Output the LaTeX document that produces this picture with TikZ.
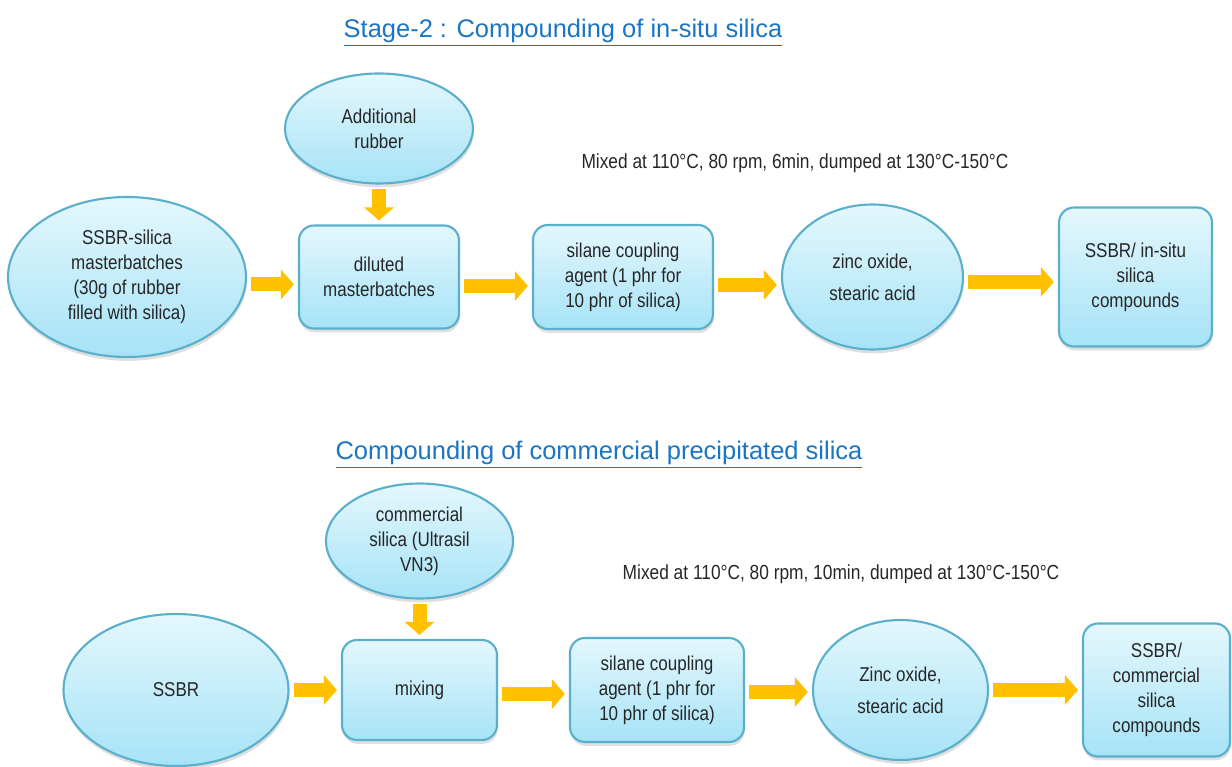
\documentclass[tikz,border=0pt]{standalone}
\usepackage{fontspec}
\setmainfont{Liberation Sans}
\newfontfamily\narrowfont[FakeStretch=0.85]{Liberation Sans}
\usetikzlibrary{shapes, arrows.meta, positioning, shadows}
\definecolor{edgeblue}{HTML}{5AAFCB}
\definecolor{filltop}{HTML}{E4F7FD}
\definecolor{fillbot}{HTML}{A6E3F7}
\definecolor{arrowyellow}{HTML}{FFC000}
\definecolor{titleblue}{HTML}{1A75C4}
\tikzstyle{base} = [draw=edgeblue, line width=1.2pt, top color=filltop, bottom color=fillbot,
    text=black!85, align=center, font=\narrowfont\fontsize{11.4}{14.2}\selectfont,
    drop shadow={shadow xshift=0.4pt, shadow yshift=-2.2pt, opacity=0.25}]
\tikzstyle{block} = [base, rectangle, rounded corners=0.3cm, inner sep=2pt]
\tikzstyle{oval} = [base, ellipse, inner sep=0pt]
\tikzstyle{line} = [draw=arrowyellow, line width=0.28cm,
    -{Triangle[length=0.26cm, width=0.58cm]}, shorten <=0.08cm, shorten >=0.08cm]
\tikzstyle{title} = [text=titleblue, font=\fontsize{14.5}{17}\selectfont]
\tikzstyle{note} = [text=black!85, font=\narrowfont\fontsize{11.6}{14}\selectfont]

\begin{document}
\begin{tikzpicture}[auto]
  \useasboundingbox (0,0) rectangle (24.64,-15.34);
  % Place nodes
  % Stage 2: in-situ silica
  \node[title] (title1) at (11.26,-0.66) {\underline{Stage-2 : Compounding of in-situ silica}};
  \node[oval, minimum width=4.76cm, minimum height=3.2cm] (ssbrmb) at (2.54,-5.54)
    {SSBR-silica\\ masterbatches\\ (30g of rubber\\ filled with silica)};
  \node[block, minimum width=3.2cm, minimum height=2.06cm, right of=ssbrmb, node distance=5.04cm] (diluted)
    {diluted\\ masterbatches};
  \node[oval, minimum width=3.76cm, minimum height=2.2cm, above of=diluted, node distance=2.97cm] (addrub)
    {Additional\\ rubber};
  \node[block, minimum width=3.6cm, minimum height=2.08cm, right of=diluted, node distance=4.88cm] (silane1)
    {silane coupling\\ agent (1 phr for\\ 10 phr of silica)};
  \node[oval, minimum width=3.62cm, minimum height=2.9cm, right of=silane1, node distance=4.99cm] (zinc1)
    {zinc oxide,\\[4pt] stearic acid};
  \node[block, minimum width=3.06cm, minimum height=2.78cm, right of=zinc1, node distance=5.26cm] (final1)
    {SSBR/ in-situ\\ silica\\ compounds};
  \node[note] (mix1) at (15.9,-3.26) {Mixed at 110°C, 80 rpm, 6min, dumped at 130°C-150°C};

  % Commercial precipitated silica
  \node[title] (title2) at (11.98,-9.1) {\underline{Compounding of commercial precipitated silica}};
  \node[oval, minimum width=4.5cm, minimum height=3.04cm] (ssbr) at (3.52,-13.8) {SSBR};
  \node[block, minimum width=3.1cm, minimum height=2.0cm, right of=ssbr, node distance=4.87cm] (mixing)
    {mixing};
  \node[oval, minimum width=3.74cm, minimum height=2.3cm, above of=mixing, node distance=2.98cm] (comsil)
    {commercial\\ silica (Ultrasil\\ VN3)};
  \node[block, minimum width=3.48cm, minimum height=2.08cm, right of=mixing, node distance=4.75cm] (silane2)
    {silane coupling\\ agent (1 phr for\\ 10 phr of silica)};
  \node[oval, minimum width=3.5cm, minimum height=2.8cm, right of=silane2, node distance=4.87cm] (zinc2)
    {Zinc oxide,\\[4pt] stearic acid};
  \node[block, minimum width=2.94cm, minimum height=2.66cm, right of=zinc2, node distance=5.12cm] (final2)
    {SSBR/\\ commercial\\ silica\\ compounds};
  \node[note] (mix2) at (16.82,-11.48) {Mixed at 110°C, 80 rpm, 10min, dumped at 130°C-150°C};

  % Draw edges
  \path [line] (addrub) -- (diluted);
  \path [line] ([yshift=-0.15cm]ssbrmb.east) -- ([yshift=-0.15cm]diluted.west);
  \path [line] ([yshift=-0.18cm]diluted.east) -- ([yshift=-0.18cm]silane1.west);
  \path [line] ([yshift=-0.16cm]silane1.east) -- ([yshift=-0.16cm]zinc1.west);
  \path [line] ([yshift=-0.1cm]zinc1.east) -- ([yshift=-0.1cm]final1.west);

  \path [line] (comsil) -- (mixing);
  \path [line] (ssbr) -- (mixing);
  \path [line] ([yshift=-0.08cm]mixing.east) -- ([yshift=-0.08cm]silane2.west);
  \path [line] ([yshift=-0.04cm]silane2.east) -- ([yshift=-0.04cm]zinc2.west);
  \path [line] (zinc2) -- (final2);
\end{tikzpicture}
\end{document}
